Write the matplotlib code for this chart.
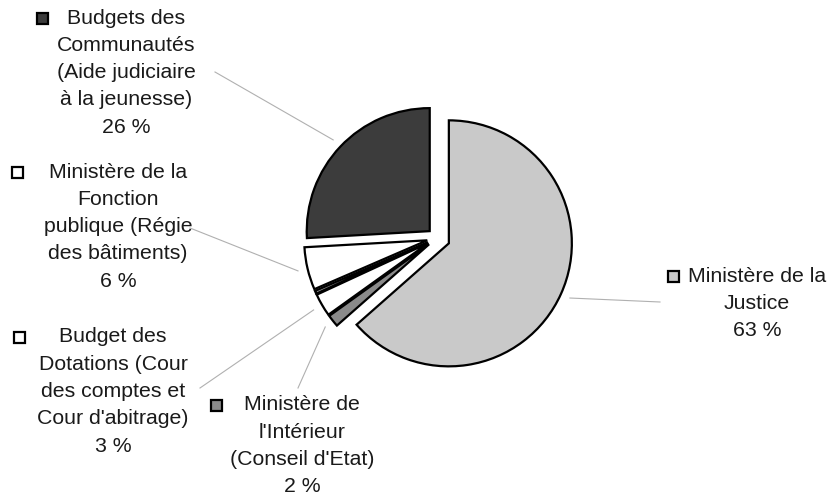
import numpy as np
import matplotlib
matplotlib.use("Agg")
import matplotlib.pyplot as plt
from matplotlib.patches import Rectangle

W, H = 831, 496

# slices, clockwise from 12 o'clock
names = ["Justice", "Interieur", "Dotations", "autre", "Fonction", "Communautes"]
values = [63.5, 1.6, 3.0, 0.4, 5.6, 25.9]
colors = ["#c9c9c9", "#8a8a8a", "#ffffff", "#9a9a9a", "#ffffff", "#3c3c3c"]

labels = {
    "Communautes": ["Budgets des", "Communautés", "(Aide judiciaire", "à la jeunesse)", "26 %"],
    "Fonction": ["Ministère de la", "Fonction", "publique (Régie", "des bâtiments)", "6 %"],
    "Justice": ["Ministère de la", "Justice", "63 %"],
    "Dotations": ["Budget des", "Dotations (Cour", "des comptes et", "Cour d'abitrage)", "3 %"],
    "Interieur": ["Ministère de", "l'Intérieur", "(Conseil d'Etat)", "2 %"],
}

# layout in pixels (x center of text block, y of first line, marker x, leader end)
layout = {
    "Communautes": dict(x=126, y=18, mx=42, lead=(215, 72)),
    "Fonction": dict(x=118, y=172, mx=17, lead=(190, 228)),
    "Justice": dict(x=757, y=276, mx=673, lead=(660, 302)),
    "Dotations": dict(x=113, y=337, mx=19, lead=(200, 388)),
    "Interieur": dict(x=302, y=405, mx=216, lead=(298, 388)),
}
line_h = 27.3
center = (437, 238)
radius = 123
# explode offset in pixels (pie uses data units here)
explode = [13, 10, 10, 10, 10, 10]

plt.rcParams["font.family"] = ["Liberation Sans", "DejaVu Sans"]

fig = plt.figure(figsize=(W / 100, H / 100), dpi=100)
ax = fig.add_axes([0, 0, 1, 1])

wedges, _ = ax.pie(values, explode=explode, colors=colors, startangle=90,
                   counterclock=False, radius=radius,
                   center=(center[0], H - center[1]),
                   wedgeprops=dict(edgecolor="black", linewidth=1.6))

ax.set_xlim(0, W)
ax.set_ylim(0, H)
ax.set_aspect("equal")
ax.axis("off")

for name, w in zip(names, wedges):
    if name not in labels:
        continue
    lay = layout[name]
    # leader line from just outside the wedge to the label
    mid = np.deg2rad((w.theta1 + w.theta2) / 2)
    cx, cy = w.center
    px = cx + radius * 1.08 * np.cos(mid)
    py = cy + radius * 1.08 * np.sin(mid)
    lx, ly = lay["lead"]
    ax.plot([px, lx], [py, H - ly], color="#b0b0b0", lw=0.8, zorder=0)

    for i, line in enumerate(labels[name]):
        ax.text(lay["x"], H - (lay["y"] + i * line_h), line, ha="center", va="center",
                fontsize=15.3, color="#1a1a1a")
    ax.add_patch(Rectangle((lay["mx"] - 5.5, H - lay["y"] - 5.5), 11, 11,
                           facecolor=w.get_facecolor(), edgecolor="black", lw=1.6))

fig.savefig("out.png", dpi=100)
